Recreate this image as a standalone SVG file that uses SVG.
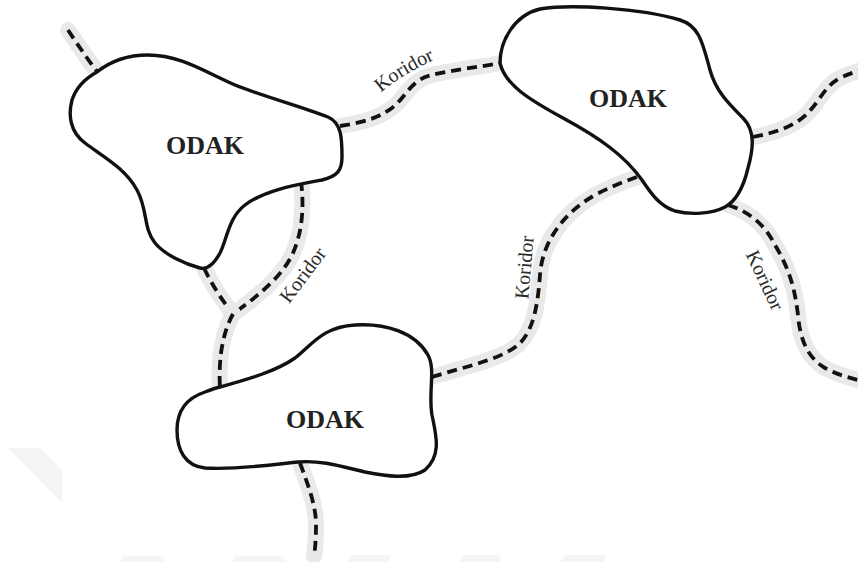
<svg xmlns="http://www.w3.org/2000/svg" width="858" height="562" viewBox="0 0 858 562">
  <style>
    .band { fill: none; stroke: #e9e9e9; stroke-width: 16; stroke-linecap: round; stroke-linejoin: round; }
    .dash { fill: none; stroke: #111; stroke-width: 3.8; stroke-dasharray: 10 6; }
    .node { fill: #fff; stroke: #111; stroke-width: 3.4; stroke-linejoin: round; }
    .title { font-family: "Liberation Serif", "Times New Roman", serif; font-weight: bold; font-size: 26px; fill: #222; text-anchor: middle; }
    .lbl { font-family: "Liberation Serif", "Times New Roman", serif; font-size: 20px; fill: #2a2a2a; text-anchor: middle; }
    .wm { fill: #f5f5f5; }
  </style>
  <defs>
    <path id="lpB" d="M372,101 Q398,74 446,55"/>
  </defs>
  <rect width="858" height="562" fill="#fff"/>
  <g id="watermark">
    <polygon class="wm" points="8,448 40,448 62,470 62,503"/>
    <polygon class="wm" points="124,556 160,556 167,562 118,562"/>
    <polygon class="wm" points="236,556 282,556 287,562 230,562"/>
    <polygon class="wm" points="352,555 390,555 390,562 347,562"/>
    <polygon class="wm" points="464,555 500,555 500,562 458,562"/>
    <polygon class="wm" points="566,555 605,555 605,562 560,562"/>
  </g>
  <g id="connectors">
    <path id="cA" class="band" d="M68,30 C78,45 88,60 99,74"/>
    <path class="dash" d="M68,30 C78,45 88,60 99,74"/>
    <path id="cB" class="band" d="M340,126 C365,122 378,118 392,108 C405,98 410,82 428,76 C450,70 480,67 501,63"/>
    <path class="dash" d="M340,126 C365,122 378,118 392,108 C405,98 410,82 428,76 C450,70 480,67 501,63"/>
    <path id="cC" class="band" d="M301,181 C304,205 303,230 293,253 C283,275 262,293 233,314"/>
    <path class="dash" d="M301,181 C304,205 303,230 293,253 C283,275 262,293 233,314"/>
    <path id="cD" class="band" d="M204,268 C212,285 222,300 233,314"/>
    <path class="dash" d="M204,268 C212,285 222,300 233,314"/>
    <path id="cE" class="band" d="M233,314 C224,330 218,355 220,388"/>
    <path class="dash" d="M233,314 C224,330 218,355 220,388"/>
    <path id="cF" class="band" d="M432,377 C460,368 500,360 518,345 C535,330 538,300 540,275 C542,245 560,215 595,195 C610,187 625,181 640,176"/>
    <path class="dash" d="M432,377 C460,368 500,360 518,345 C535,330 538,300 540,275 C542,245 560,215 595,195 C610,187 625,181 640,176"/>
    <path id="cG" class="band" d="M753,137 C775,133 795,126 808,113 C820,100 826,85 840,78 C848,74 855,72 862,70"/>
    <path class="dash" d="M753,137 C775,133 795,126 808,113 C820,100 826,85 840,78 C848,74 855,72 862,70"/>
    <path id="cH" class="band" d="M728,205 C750,212 765,225 775,245 C790,270 795,290 798,315 C800,340 808,358 825,368 C838,375 850,378 862,381"/>
    <path class="dash" d="M728,205 C750,212 765,225 775,245 C790,270 795,290 798,315 C800,340 808,358 825,368 C838,375 850,378 862,381"/>
    <path id="cI" class="band" d="M300,463 C308,485 316,505 316,525 C316,540 315,550 314,556"/>
    <path class="dash" d="M300,463 C308,485 316,505 316,525 C316,540 315,550 314,556"/>
    <text class="lbl"><textPath href="#lpB" startOffset="50%">Koridor</textPath></text>
    <text class="lbl" transform="translate(308,279) rotate(-53)">Koridor</text>
    <text class="lbl" transform="translate(531,268) rotate(-85)">Koridor</text>
    <text class="lbl" transform="translate(759,283) rotate(65)">Koridor</text>
  </g>
  <g id="node1">
    <path class="node" d="M97,72 C112,60 128,55 148,55 C180,55 205,72 235,85 C262,96 300,106 328,117 C342,123 342,140 342,157 C342,170 338,176 322,180 C295,185 265,190 245,205 C228,218 227,240 220,253 C214,264 208,270 200,268 C185,264 165,255 155,243 C143,228 148,210 137,190 C125,168 102,156 85,143 C70,132 68,115 72,100 C76,88 86,78 97,72 Z"/>
    <text class="title" x="205" y="154">ODAK</text>
  </g>
  <g id="node2">
    <path class="node" d="M500,63 C500,40 515,15 540,9 C570,4 640,8 680,20 C700,26 703,45 710,70 C716,92 730,105 743,118 C756,131 753,150 748,168 C744,185 738,200 725,207 C712,214 690,215 675,211 C660,206 652,195 642,180 C625,156 600,138 563,118 C530,100 505,85 500,63 Z"/>
    <text class="title" x="628" y="107">ODAK</text>
  </g>
  <g id="node3">
    <path class="node" d="M220,387 C245,380 275,372 295,358 C312,345 322,327 355,325 C385,323 415,332 428,355 C436,370 428,392 432,415 C436,435 442,455 425,470 C410,480 385,476 365,472 C340,466 320,460 298,462 C270,465 235,470 205,468 C185,466 177,450 177,430 C177,410 187,398 205,392 C210,390 215,388 220,387 Z"/>
    <text class="title" x="325" y="428">ODAK</text>
  </g>
</svg>
